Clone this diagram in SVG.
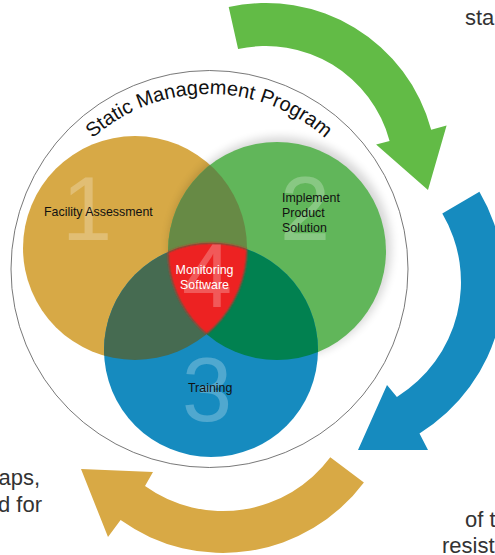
<svg xmlns="http://www.w3.org/2000/svg" width="495" height="555" viewBox="0 0 495 555">
  <style>
    text { font-family: "Liberation Sans", Arial, sans-serif; }
    .lbl { font-size: 12.4px; fill: #111; }
    .lblw { font-size: 12.4px; fill: #fff; text-anchor: middle; }
    .num { font-size: 90px; fill: #fff; fill-opacity: 0.25; text-anchor: middle; }
    .side { font-size: 22px; fill: #333; }
    .ring { fill: none; stroke: #555; stroke-width: 0.8; }
  </style>
  <defs>
    <clipPath id="cO"><circle cx="135" cy="248" r="112"/></clipPath>
    <clipPath id="cG"><circle cx="277" cy="251" r="109"/></clipPath>
    <filter id="soft" x="-10%" y="-10%" width="120%" height="120%">
      <feGaussianBlur stdDeviation="1.1"/>
    </filter>
    <filter id="halo" x="-20%" y="-20%" width="140%" height="140%">
      <feGaussianBlur stdDeviation="5"/>
    </filter>
    <path id="arcText" d="M 34,269 A 175 175 0 0 1 384,269"/>
  </defs>

  <g id="connectors">
    <path id="arrow-green" fill="#62bb46" d="M 228.7,7.1 A 171 171 0 0 1 431.2,129.7 L 446.6,125.6 L 428,190 L 376.1,144.5 L 389.6,140.9 A 128 128 0 0 0 238.1,49.1 Z"/>
    <path id="arrow-blue" fill="#168bbf" d="M 479.4,191.7 A 178 178 0 0 1 419.5,433.4 L 428,450 L 358,450 L 387,385 L 396.9,396.9 A 135 135 0 0 0 442.3,213.5 Z"/>
    <path id="arrow-orange" fill="#d8a945" d="M 363.9,482.4 A 176 176 0 0 1 120.6,520.1 L 108,537 L 81,469 L 153,472 L 145,486 A 134 134 0 0 0 330.3,457.3 Z"/>
  </g>

  <g id="program">
    <circle class="ring" cx="209.5" cy="269" r="198.5"/>
    <text font-size="20" fill="#111"><textPath href="#arcText" startOffset="50%" text-anchor="middle">Static Management Program</textPath></text>
  </g>

  <g id="node-1">
    <circle cx="135" cy="248" r="112" fill="#d7a946"/>
  </g>
  <g id="node-2">
    <circle cx="280" cy="248" r="111" fill="#000" opacity="0.16" filter="url(#halo)"/>
    <circle cx="277" cy="251" r="109" fill="#61b65a"/>
  </g>
  <g id="node-3">
    <circle cx="211" cy="350" r="107" fill="#168bbf"/>
  </g>
  <g id="overlaps">
    <g clip-path="url(#cO)"><circle cx="277" cy="251" r="109" fill="#678a45"/></g>
    <g clip-path="url(#cO)"><circle cx="211" cy="350" r="107" fill="#466b51"/></g>
    <g clip-path="url(#cG)"><circle cx="211" cy="350" r="107" fill="#018150"/></g>
  </g>
  <g id="node-4">
    <g filter="url(#soft)"><g clip-path="url(#cO)"><g clip-path="url(#cG)"><circle cx="211" cy="350" r="107" fill="#ed2224"/></g></g></g>
  </g>

  <g id="numbers">
    <text class="num" x="87" y="240">1</text>
    <text class="num" x="305" y="240">2</text>
    <text class="num" x="207" y="421">3</text>
    <text class="num" x="207" y="307">4</text>
  </g>

  <g id="labels">
    <text class="lbl" x="44" y="216">Facility Assessment</text>
    <text class="lbl" x="282" y="202">Implement</text>
    <text class="lbl" x="282" y="217">Product</text>
    <text class="lbl" x="282" y="232">Solution</text>
    <text class="lblw" x="204.5" y="273.5">Monitoring</text>
    <text class="lblw" x="204.5" y="288.5">Software</text>
    <text class="lbl" x="188" y="392">Training</text>
  </g>

  <g id="side-text">
    <text class="side" x="465" y="25">sta</text>
    <text class="side" x="40" y="485" text-anchor="end">aps,</text>
    <text class="side" x="42" y="512" text-anchor="end">d for</text>
    <text class="side" x="465" y="527">of t</text>
    <text class="side" x="442" y="553">resist</text>
  </g>
</svg>
